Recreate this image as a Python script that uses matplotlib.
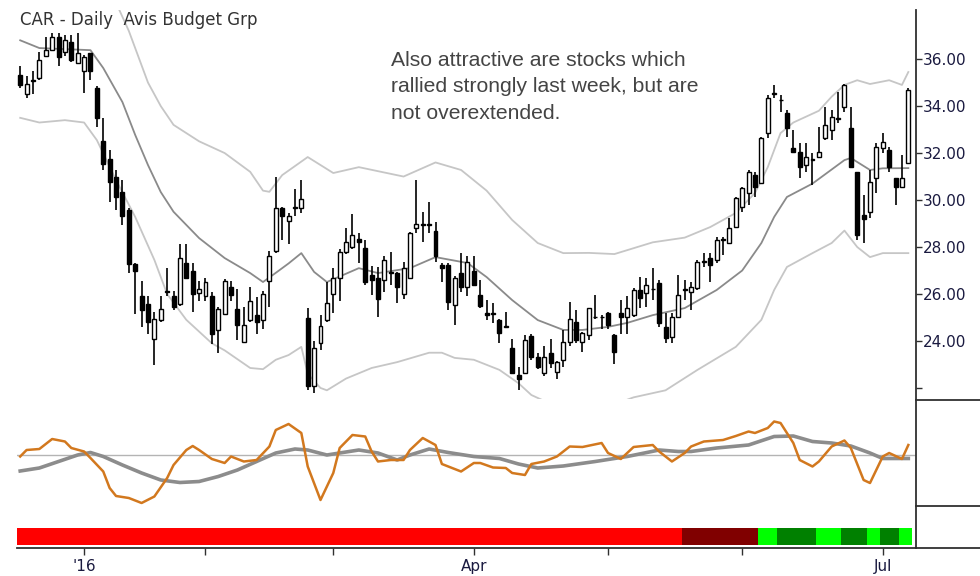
import numpy as np
import pandas as pd
import matplotlib
matplotlib.use('Agg')
import matplotlib.pyplot as plt
from matplotlib.lines import Line2D

# CAR daily, 17 Dec 2015 - 8 Jul 2016
holidays = ['2015-12-25', '2016-01-01', '2016-01-18', '2016-02-15',
            '2016-03-25', '2016-05-30', '2016-07-04']

opens = [
    35.34, 34.50, 35.05, 35.20, 36.14, 36.39, 36.96, 36.32, 36.74, 35.83,
    35.48, 36.25, 34.78, 32.53, 31.76, 30.99, 30.35, 29.58, 27.29, 25.93,
    25.58, 24.10, 24.88, 26.12, 25.93, 25.58, 27.33, 26.98, 26.03, 25.93,
    25.93, 24.45, 25.16, 26.28, 25.37, 23.96, 24.88, 25.09, 24.88, 26.56,
    27.83, 29.68, 29.09, 29.65, 29.65, 24.98, 22.10, 23.92, 24.90, 26.00,
    26.70, 27.80, 28.00, 28.35, 27.95, 26.80, 26.70, 26.60, 26.90, 26.90,
    26.00, 26.70, 28.80, 28.95, 28.95, 28.70, 27.25, 27.25, 25.55, 26.90,
    26.30, 27.00, 25.95, 25.20, 25.15, 24.90, 24.60, 23.70, 22.55, 22.65,
    24.20, 23.30, 22.65, 23.50, 22.70, 23.20, 23.95, 24.80, 23.95, 24.25,
    25.00, 25.00, 25.20, 24.25, 25.20, 25.04, 25.11, 26.17, 26.03, 26.20,
    26.45, 24.61, 24.18, 25.04, 26.17, 26.10, 26.24, 27.38, 27.52, 27.45,
    28.30, 28.16, 28.87, 29.72, 30.28, 31.06, 30.71, 32.84, 34.50, 34.26,
    33.69, 32.20, 32.06, 31.49, 31.70, 31.84, 32.62, 32.98, 33.47, 33.97,
    33.05, 31.20, 29.36, 29.50, 30.92, 32.20, 32.13, 30.92, 30.57, 31.56,
]
highs = [
    35.69, 35.27, 35.48, 36.32, 36.96, 37.10, 37.10, 37.03, 37.03, 37.10,
    36.18, 36.28, 34.85, 33.51, 32.11, 31.27, 30.85, 29.65, 27.33, 26.56,
    25.93, 25.23, 25.93, 27.12, 26.14, 28.11, 28.11, 27.33, 26.56, 26.70,
    26.07, 25.44, 26.63, 26.56, 26.21, 25.44, 26.28, 25.86, 26.14, 27.83,
    30.99, 29.72, 29.44, 30.49, 30.85, 25.42, 24.00, 25.10, 26.50, 27.10,
    27.90, 28.80, 29.40, 28.60, 28.30, 27.20, 27.15, 27.60, 27.80, 26.95,
    27.35, 28.65, 30.85, 29.50, 29.90, 29.05, 27.30, 27.30, 26.75, 27.75,
    27.60, 27.60, 26.60, 25.75, 25.60, 24.95, 25.25, 24.10, 22.90, 24.25,
    24.30, 23.50, 23.80, 24.10, 23.15, 24.45, 25.65, 25.30, 24.40, 25.40,
    25.95, 25.10, 25.25, 24.30, 25.75, 25.90, 26.24, 26.74, 26.67, 27.09,
    26.60, 25.18, 25.18, 26.81, 26.60, 26.52, 27.45, 27.73, 27.73, 28.44,
    28.44, 29.22, 30.14, 30.57, 31.28, 31.20, 32.69, 34.47, 34.89, 34.47,
    33.83, 32.98, 32.41, 32.41, 31.99, 33.12, 33.97, 33.83, 34.61, 34.96,
    33.97, 31.20, 30.21, 31.28, 32.41, 32.84, 32.27, 30.92, 31.91, 34.75,
]
lows = [
    34.78, 34.36, 34.50, 35.13, 36.11, 36.37, 35.72, 36.14, 35.86, 35.80,
    34.57, 35.13, 33.09, 31.27, 29.93, 29.58, 28.95, 26.91, 25.16, 24.60,
    24.31, 22.98, 24.81, 25.93, 25.30, 25.51, 26.63, 25.23, 25.72, 25.72,
    23.89, 23.47, 25.13, 25.72, 24.03, 23.90, 24.81, 24.31, 24.53, 25.44,
    27.76, 28.32, 28.11, 29.30, 29.44, 21.90, 21.80, 23.62, 24.80, 25.20,
    25.70, 27.70, 27.90, 27.30, 26.40, 25.95, 25.00, 26.10, 26.40, 25.60,
    25.80, 26.65, 28.60, 28.20, 28.60, 27.35, 26.50, 25.30, 24.70, 26.10,
    25.90, 26.35, 25.40, 24.90, 24.75, 23.90, 24.55, 22.60, 21.90, 22.60,
    23.20, 22.80, 22.50, 22.85, 22.40, 22.90, 23.80, 23.90, 23.55, 24.05,
    24.95, 24.50, 24.50, 23.00, 24.30, 24.30, 25.04, 25.39, 25.46, 25.74,
    24.61, 23.90, 23.90, 24.96, 25.74, 25.32, 26.17, 27.16, 26.52, 27.31,
    27.66, 28.16, 28.80, 29.50, 29.79, 30.14, 30.71, 32.62, 34.33, 33.76,
    32.69, 32.00, 30.92, 31.20, 30.64, 31.77, 32.55, 32.55, 33.26, 33.76,
    31.35, 28.30, 28.16, 29.22, 30.28, 31.99, 31.20, 29.79, 30.50, 31.53,
]
closes = [
    34.88, 34.92, 35.10, 35.97, 36.39, 36.96, 36.11, 36.81, 35.97, 36.25,
    36.11, 35.48, 33.51, 31.55, 30.78, 30.14, 29.30, 27.26, 26.98, 25.30,
    24.81, 24.95, 25.37, 26.07, 25.44, 27.54, 26.70, 26.00, 26.21, 26.49,
    24.31, 25.37, 26.56, 25.97, 24.67, 24.67, 25.72, 24.81, 26.00, 27.62,
    29.65, 29.34, 29.30, 29.70, 30.04, 22.08, 23.72, 24.62, 25.60, 26.70,
    27.80, 28.20, 28.50, 28.20, 26.50, 26.60, 25.80, 27.45, 26.92, 26.30,
    27.10, 28.60, 29.00, 28.97, 28.97, 27.60, 27.10, 25.65, 26.70, 26.30,
    27.35, 26.40, 25.50, 25.10, 25.17, 24.35, 24.62, 22.65, 22.40, 24.05,
    23.30, 22.90, 23.30, 23.05, 23.10, 23.95, 24.95, 24.05, 24.35, 25.40,
    25.02, 25.02, 24.70, 23.55, 25.00, 25.39, 26.17, 25.82, 26.38, 26.22,
    24.75, 24.11, 25.04, 25.96, 26.19, 26.31, 27.38, 27.40, 27.23, 28.30,
    28.32, 28.80, 30.07, 30.50, 31.20, 30.57, 32.62, 34.33, 34.55, 34.24,
    33.05, 32.06, 31.42, 31.84, 31.72, 32.06, 33.19, 33.55, 33.49, 34.89,
    31.42, 28.50, 29.20, 30.78, 32.27, 32.48, 31.42, 30.57, 30.92, 34.68,
]

# moving average + envelope, sampled at bar numbers
mid_idx = [0, 3, 11, 13, 16, 18, 20, 22, 24, 28, 32, 36, 38, 40, 42, 44, 46, 48,
           53, 56, 61, 65, 70, 73, 77, 81, 85, 88, 92, 95, 99, 104, 109, 113,
           116, 118, 120, 124, 127, 129, 130, 133, 135, 139]
mid_val = [36.80, 36.47, 36.38, 35.62, 34.17, 32.77, 31.49, 30.34, 29.50, 28.38,
           27.53, 26.89, 26.51, 26.90, 27.30, 27.74, 26.94, 26.51, 27.10, 26.89,
           27.10, 27.57, 27.32, 26.72, 25.74, 24.89, 24.47, 24.47, 24.60, 24.77,
           25.10, 25.40, 26.17, 27.00, 28.17, 29.28, 30.13, 30.70, 31.30, 31.70,
           31.79, 31.28, 31.35, 31.36]

upper_idx = [0, 8, 14, 17, 20, 22, 24, 28, 32, 36, 38, 39, 41, 45, 49, 53, 60,
             65, 69, 73, 77, 81, 85, 89, 93, 99, 104, 108, 112, 115, 117, 119,
             121, 125, 127, 129, 131, 133, 136, 138, 139]
upper_val = [40.0, 39.8, 39.0, 37.2, 35.0, 34.0, 33.2, 32.5, 32.0, 31.2, 30.4,
             30.35, 31.06, 31.83, 31.15, 31.4, 31.0, 31.6, 31.28, 30.4, 29.15,
             28.17, 27.74, 27.75, 27.7, 28.2, 28.4, 28.85, 29.45, 30.3, 31.4,
             32.85, 33.3, 33.8, 34.4, 34.9, 35.1, 34.94, 35.1, 34.9, 35.45]

lower_idx = [0, 3, 7, 10, 12, 15, 18, 21, 23, 26, 30, 32, 36, 38, 40, 42, 44,
             45, 47, 48, 51, 55, 59, 64, 66, 68, 71, 75, 78, 80, 84, 90, 96,
             101, 106, 112, 116, 118, 120, 124, 127, 129, 131, 133, 135, 139]
lower_val = [33.5, 33.3, 33.4, 33.3, 32.55, 30.85, 29.28, 27.45, 26.0, 24.9,
             23.9, 23.6, 22.85, 22.8, 23.2, 23.4, 23.75, 22.6, 22.0, 21.9, 22.4,
             22.85, 23.1, 23.5, 23.5, 23.28, 23.2, 22.77, 22.2, 21.7, 21.2,
             21.0, 21.6, 21.9, 22.77, 23.75, 24.9, 26.17, 27.15, 27.74, 28.17,
             28.7, 28.0, 27.57, 27.74, 27.74]

# oscillator panel
fast_idx = [0, 1, 3, 5, 7, 8, 10, 11, 13, 14, 15, 17, 19, 21, 23, 24, 26, 27,
            28, 30, 32, 33, 35, 37, 39, 40, 42, 44, 45, 47, 49, 50, 52, 54, 55,
            56, 58, 60, 61, 63, 65, 66, 69, 71, 72, 74, 76, 77, 79, 80, 82, 84,
            86, 88, 91, 92, 94, 96, 99, 100, 102, 104, 105, 107, 110, 112, 114,
            115, 117, 118, 119, 121, 122, 124, 125, 127, 129, 130, 132, 133,
            135, 136, 138, 139]
fast_val = [-3, 10, 12, 32, 27, 14, 7, -6, -33, -66, -82, -86, -96, -83, -46,
            -20, 10, 18, 10, -8, -16, -3, -13, -10, 17, 50, 62, 44, -23, -90,
            -36, 14, 40, 37, 7, -13, -10, -10, 10, 34, 20, -18, -33, -16, -16,
            -25, -26, -36, -40, -18, -13, -3, 17, 16, 24, 4, -8, 16, 20, 7, -13,
            4, 17, 27, 30, 38, 47, 44, 54, 67, 64, 24, -10, -23, -13, 17, 29,
            14, -50, -56, -3, 4, -8, 20]

slow_idx = [0, 3, 6, 9, 11, 13, 16, 19, 22, 25, 28, 31, 34, 37, 40, 43, 45, 48,
            50, 53, 56, 59, 61, 64, 67, 71, 75, 78, 81, 85, 90, 95, 100, 103,
            105, 109, 114, 118, 121, 124, 127, 130, 133, 135, 139]
slow_val = [-32, -26, -13, 0, 5, -3, -20, -36, -50, -55, -53, -43, -30, -13, 4,
            12, 10, 0, 4, 10, 4, -10, 0, 12, 5, -3, -7, -18, -26, -22, -13, -3,
            10, 7, 7, 14, 20, 37, 38, 27, 24, 18, 4, -7, -7]

# trend bar: (state, number of bars)
trend_runs = [('down', 104), ('weak', 12), ('up', 3), ('up2', 6), ('up', 4),
              ('up2', 4), ('up', 2), ('up2', 3), ('up', 2)]
trend_colors = {'down': '#ff0000', 'weak': '#800000', 'up': '#00ff00', 'up2': '#008000'}

note = ("Also attractive are stocks which\n"
        "rallied strongly last week, but are\n"
        "not overextended.")

dates = pd.bdate_range('2015-12-17', '2016-07-08')
dates = dates[~dates.isin(pd.to_datetime(holidays))]
x = np.arange(len(dates))
month_start = [i for i in range(1, len(dates)) if dates[i].month != dates[i - 1].month]
month_labels = ["'16" if dates[i].month == 1 else
                (dates[i].strftime('%b') if dates[i].month in (4, 7) else '')
                for i in month_start]

o = np.array(opens)
h = np.array(highs)
l = np.array(lows)
c = np.array(closes)

spine_col = '#303030'
lab_col = '#1a1a40'

fig = plt.figure(figsize=(9.8, 5.76), dpi=100)
left, width = 17 / 980, 899 / 980
ax_p = fig.add_axes([left, 1 - 399 / 576, width, 389 / 576])
ax_o = fig.add_axes([left, 1 - 506 / 576, width, 106 / 576], sharex=ax_p)
ax_c = fig.add_axes([left, 1 - 548 / 576, width, 42 / 576], sharex=ax_p)

# price candles
ax_p.plot(upper_idx, upper_val, color='#c6c6c6', lw=1.3, zorder=1)
ax_p.plot(lower_idx, lower_val, color='#c6c6c6', lw=1.3, zorder=1)
ax_p.plot(mid_idx, mid_val, color='#8a8a8a', lw=1.3, zorder=1)
ax_p.vlines(x, l, h, color='black', lw=1.2, zorder=2)
body_col = np.where(c >= o, 'white', 'black')
body_h = np.maximum(np.abs(c - o), 0.03)
ax_p.bar(x, body_h, bottom=np.minimum(o, c), width=0.62, color=body_col,
         edgecolor='black', linewidth=1.0, zorder=3)

ax_p.set_ylim(21.53, 38.09)
ax_p.set_yticks(np.arange(22, 37, 2))
ax_p.set_yticklabels([''] + ['%.2f' % v for v in range(24, 37, 2)])

# oscillator
ax_o.axhline(0, color='#b4b4b4', lw=1.0, zorder=1)
ax_o.plot(slow_idx, slow_val, color='#8c8c8c', lw=2.6, zorder=2)
ax_o.plot(fast_idx, fast_val, color='#d2781e', lw=1.8, zorder=3)
ax_o.set_ylim(-102, 110)
ax_o.set_yticks([])

# trend bar
start = 0
for state, n in trend_runs:
    ax_c.broken_barh([(start - 0.5, n)], (0.07, 0.41), facecolors=trend_colors[state],
                     edgecolor='none')
    start += n
ax_c.set_ylim(0, 1)
ax_c.set_yticks([])

ax_p.set_xlim(-0.5, 140.2)
ax_c.set_xticks(month_start)
ax_c.set_xticklabels(month_labels)

for ax in (ax_p, ax_o, ax_c):
    for s in ('top', 'left', 'bottom'):
        ax.spines[s].set_visible(False)
    ax.spines['right'].set_color(spine_col)
    ax.spines['right'].set_linewidth(1.3)
    ax.yaxis.tick_right()
    ax.tick_params(axis='y', length=4, width=1, colors=spine_col,
                   labelcolor=lab_col, labelsize=11, pad=1)
    ax.patch.set_alpha(0)
ax_c.spines['bottom'].set_visible(True)
ax_c.spines['bottom'].set_color(spine_col)
ax_c.spines['bottom'].set_linewidth(1.3)
ax_p.tick_params(axis='x', bottom=False, labelbottom=False)
ax_o.tick_params(axis='x', bottom=False, labelbottom=False)
ax_c.tick_params(axis='x', length=5, width=1, colors=spine_col,
                 labelcolor=lab_col, labelsize=11, pad=3)

# separators in the label area
for yy in (400, 506, 548):
    fig.add_artist(Line2D([916 / 980, 1.0], [1 - yy / 576] * 2,
                          color=spine_col, lw=1.3))

fig.text(20 / 980, 1 - 20 / 576, 'CAR - Daily  Avis Budget Grp', fontsize=12,
         va='center', ha='left', color='#333333')
fig.text(391 / 980, 1 - 51 / 576, note, fontsize=15.2, va='top', ha='left',
         color='#444444', family='Liberation Sans', linespacing=1.5)

fig.savefig('out.png', dpi=100)
